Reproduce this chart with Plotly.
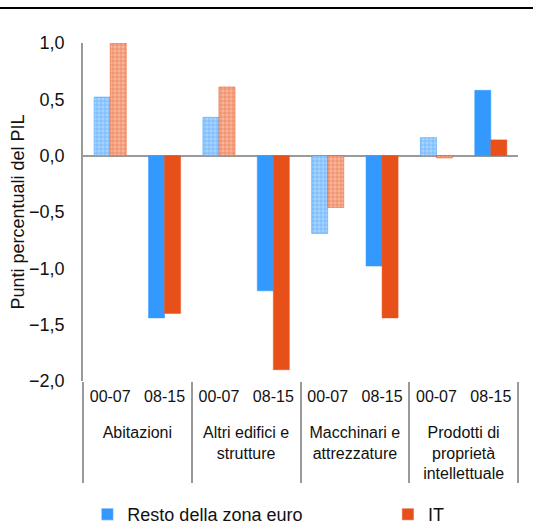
import plotly.graph_objects as go

# ---- data ----
categories = ["Abitazioni", "Altri edifici e<br>strutture", "Macchinari e<br>attrezzature",
              "Prodotti di<br>proprietà<br>intellettuale"]
periods = ["00-07", "08-15"]
resto = [0.52, -1.44, 0.34, -1.20, -0.69, -0.98, 0.16, 0.58]
it = [1.00, -1.40, 0.61, -1.90, -0.46, -1.44, -0.02, 0.14]
series_names = ["Resto della zona euro", "IT"]
y_ticks = [1.0, 0.5, 0.0, -0.5, -1.0, -1.5, -2.0]

# leading blank line pushes the outer labels down, as in the reference
outer = ["<br>" + c for c in categories for _ in periods]
inner = [p for _ in categories for p in periods]

BLUE = "#3399FF"
RED = "#E8501A"
BLUE_BG = "#a6d3ff"
RED_BG = "#f7b59c"

pattern_shapes = ["+" if p == "00-07" else "" for p in inner]

fig = go.Figure()

for name, vals, col, bg, grp, leg in [(series_names[0], resto, BLUE, BLUE_BG, "a", "legend"),
                                       (series_names[1], it, RED, RED_BG, "b", "legend2")]:
    bgs = [bg if p == "00-07" else col for p in inner]
    fig.add_trace(go.Bar(
        x=[outer, inner], y=vals, name=name, offsetgroup=grp, showlegend=False,
        marker=dict(color=col,
                    line=dict(color=col, width=0.5),
                    pattern=dict(shape=pattern_shapes, fgcolor=col, bgcolor=bgs,
                                 size=4, solidity=0.35, fillmode="overlay")),
        hoverinfo="skip"))
    # legend entry (solid colour)
    fig.add_trace(go.Bar(
        x=[[outer[0]], [inner[0]]], y=[None], name=name, offsetgroup=grp,
        marker=dict(color=col), showlegend=True, legend=leg))

leg_common = dict(orientation="h", xanchor="left", y=-0.395, yanchor="middle",
                  font=dict(size=18), itemwidth=30, bgcolor="rgba(0,0,0,0)")

fig.update_layout(
    width=533, height=526,
    margin=dict(l=83, r=15, t=43, b=145, autoexpand=False),
    paper_bgcolor="white", plot_bgcolor="white",
    barmode="group", bargap=0.41, bargroupgap=0.0,
    separators=", ",
    font=dict(family="Liberation Sans, Arial, sans-serif", size=16, color="#111111"),
    showlegend=True,
    legend=dict(x=0.01, **leg_common),
    legend2=dict(x=0.701, **leg_common),
    shapes=[dict(type="line", xref="paper", yref="paper",
                 x0=-83 / 435, x1=1 + 15 / 435, y0=1 + 35 / 338, y1=1 + 35 / 338,
                 line=dict(color="black", width=2))],
)

fig.update_xaxes(
    type="multicategory", showgrid=False, showline=False, ticks="", automargin=False,
    showdividers=True, dividercolor="#999999", dividerwidth=1.5,
    tickfont=dict(size=16), ticklabelstandoff=4,
)
fig.update_yaxes(
    range=[-2.0, 1.0], tickvals=y_ticks, tickformat=".1f", automargin=False,
    showgrid=False, zeroline=True, zerolinecolor="#9a9a9a", zerolinewidth=2,
    showline=True, linecolor="#9a9a9a", linewidth=1.5, ticks="",
    tickfont=dict(size=18), ticklabelstandoff=13,
    title=dict(text="Punti percentuali del PIL", font=dict(size=18), standoff=0),
)

fig.write_html("out.html", config={"displayModeBar": False},
               post_script="document.body.style.margin='0';")
